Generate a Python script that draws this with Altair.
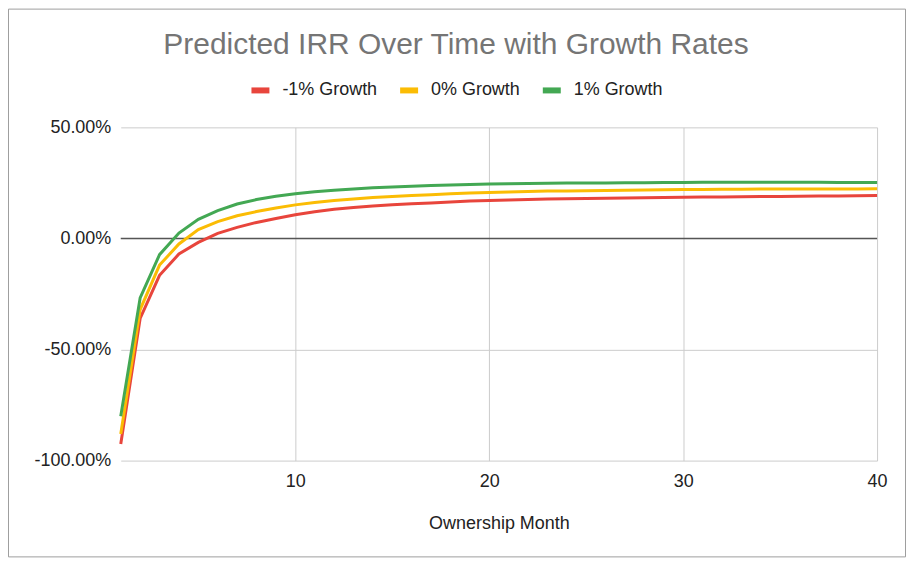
import altair as alt
import pandas as pd

months = list(range(1, 41))
series_names = ["-1% Growth", "0% Growth", "1% Growth"]
series_colors = ["#e8453c", "#fbbc04", "#43a853"]

irr_minus1 = [-92.5, -36.0, -16.6, -7.0, -1.8, 2.3, 5.0, 7.2, 9.0, 10.7,
              12.0, 13.1, 13.9, 14.6, 15.2, 15.6, 16.0, 16.4, 16.8, 17.1,
              17.3, 17.5, 17.7, 17.9, 18.0, 18.1, 18.2, 18.3, 18.4, 18.5,
              18.6, 18.7, 18.8, 18.9, 18.9, 19.0, 19.1, 19.1, 19.2, 19.3]
irr_zero = [-88.0, -32.0, -12.0, -2.5, 4.0, 7.6, 10.2, 12.1, 13.7, 15.1,
            16.2, 17.1, 17.8, 18.4, 18.9, 19.3, 19.7, 20.1, 20.4, 20.7,
            20.9, 21.1, 21.3, 21.4, 21.5, 21.6, 21.7, 21.8, 21.9, 22.0,
            22.0, 22.1, 22.1, 22.2, 22.2, 22.2, 22.3, 22.3, 22.3, 22.4]
irr_plus1 = [-80.0, -26.8, -7.3, 2.4, 8.6, 12.5, 15.5, 17.5, 19.0, 20.1,
             21.0, 21.7, 22.3, 22.8, 23.2, 23.5, 23.8, 24.1, 24.3, 24.5,
             24.6, 24.7, 24.8, 24.9, 25.0, 25.0, 25.1, 25.1, 25.2, 25.2,
             25.3, 25.3, 25.3, 25.3, 25.3, 25.3, 25.3, 25.2, 25.2, 25.2]

x_ticks = [10, 20, 30, 40]
y_ticks = [-1.0, -0.5, 0.0, 0.5]

rows = []
for name, vals in zip(series_names, [irr_minus1, irr_zero, irr_plus1]):
    for m, v in zip(months, vals):
        rows.append({"month": m, "irr": v / 100.0, "series": name})
df = pd.DataFrame(rows)

FONT = "Liberation Sans"
W, H = 758, 334
PAD = {"left": 113, "top": 119, "right": 29, "bottom": 97}

lines = alt.Chart(df).mark_line(strokeWidth=3).encode(
    x=alt.X("month:Q",
            scale=alt.Scale(domain=[1, 40], nice=False, zero=False),
            axis=alt.Axis(values=x_ticks, title="Ownership Month", format="d",
                          labelPadding=12, titlePadding=24, labelFlush=False)),
    y=alt.Y("irr:Q",
            scale=alt.Scale(domain=[-1.0, 0.5], nice=False),
            axis=alt.Axis(values=y_ticks, format=".2%", title=None,
                          labelPadding=10,
                          labelExpr="replace(datum.label, '\u2212', '-')")),
    color=alt.Color("series:N",
                    scale=alt.Scale(domain=series_names, range=series_colors),
                    sort=series_names,
                    legend=alt.Legend(
                        orient="none", legendX=128, legendY=-49,
                        direction="horizontal", title=None,
                        symbolType="stroke",
                        symbolSize=324, symbolStrokeWidth=6,
                        labelFontSize=18, labelFont=FONT, labelColor="#222222",
                        labelOffset=10, columnPadding=10, padding=0)),
)

zero_rule = alt.Chart(alt.Data(values=[{"z": 0}])).mark_rule(
    color="#555555", strokeWidth=1.6).encode(y=alt.Y("z:Q"))

border = alt.Chart(alt.Data(values=[{}])).mark_rect(
    fill="transparent", stroke="#9e9e9e", strokeWidth=1).encode(
    x=alt.value(-PAD["left"] + 0.5), x2=alt.value(W + PAD["right"] - 0.5),
    y=alt.value(-PAD["top"] + 0.5), y2=alt.value(H + PAD["bottom"] - 0.5))

chart = alt.layer(border, zero_rule, lines).properties(
    width=W, height=H,
    autosize=alt.AutoSizeParams(type="none"),
    padding=PAD,
    background="white",
    title=alt.TitleParams("Predicted IRR Over Time with Growth Rates",
                          fontSize=30, font=FONT, fontWeight="normal",
                          color="#757575", anchor="middle", dx=-43,
                          baseline="alphabetic", offset=-75),
).configure_view(stroke=None).configure_axis(
    labelFont=FONT, labelFontSize=18, labelColor="#222222",
    titleFont=FONT, titleFontSize=18, titleColor="#222222",
    titleFontWeight="normal",
    domain=False, ticks=False, gridColor="#cccccc", gridWidth=1,
)

chart.save("out.html", embed_options={"renderer": "svg", "actions": False})
